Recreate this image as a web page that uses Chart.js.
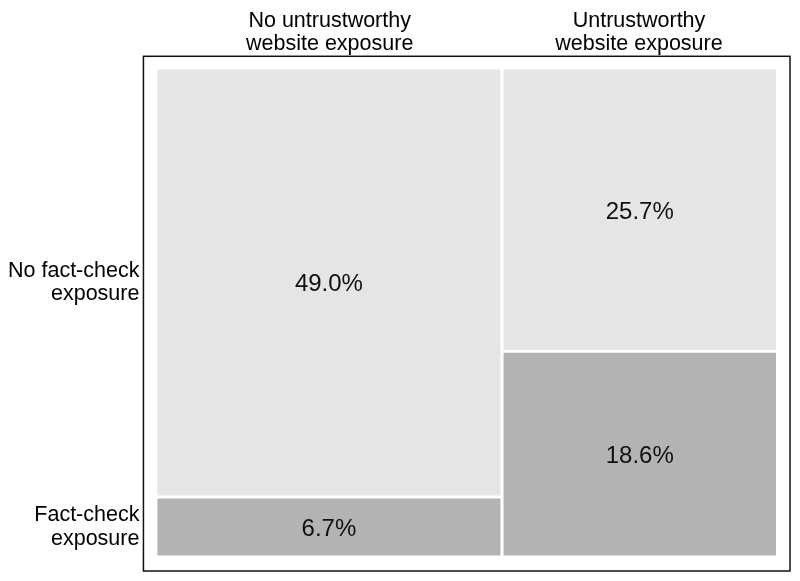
<!DOCTYPE html>
<html>
<head>
<meta charset="utf-8">
<script src="https://cdn.jsdelivr.net/npm/chart.js@4/dist/chart.umd.min.js"></script>
<style>
  body { margin: 0; background: #fff; }
  #wrap { width: 800px; height: 581px; }
</style>
</head>
<body>
<div id="wrap"><canvas id="mosaic" width="800" height="581"></canvas></div>
<script>
// column categories (top) and row categories (left)
const columnLabels = [['No untrustworthy', 'website exposure'], ['Untrustworthy', 'website exposure']];
const rowLabels = [['Fact-check', 'exposure'], ['No fact-check', 'exposure']];

// share of respondents (%) per column
const factCheck = [6.7, 18.6];
const noFactCheck = [49.0, 25.7];

const lightGrey = '#e5e5e5';
const darkGrey = '#b3b3b3';
const gapX = 0.005;   // white gap between tiles, in axis units
const gapY = 0.006;

const totals = factCheck.map((v, i) => v + noFactCheck[i]);
const grand = totals.reduce((a, b) => a + b, 0);

// build tiles from the proportions
const tiles = [];
let cum = 0;
totals.forEach((t, i) => {
  const w = t / grand;
  const x0 = cum + (i > 0 ? gapX / 2 : 0);
  const x1 = cum + w - (i < totals.length - 1 ? gapX / 2 : 0);
  const split = factCheck[i] / t;
  tiles.push({ x0, x1, y0: 0, y1: split - gapY / 2, value: factCheck[i], color: darkGrey });
  tiles.push({ x0, x1, y0: split + gapY / 2, y1: 1, value: noFactCheck[i], color: lightGrey });
  cum += w;
});

const colCenters = [];
cum = 0;
totals.forEach(t => { colCenters.push(cum + t / grand / 2); cum += t / grand; });
const rowCenters = [tiles[0], tiles[1]].map(r => (r.y0 + r.y1) / 2);

const datasets = tiles.map(r => ({
  data: [
    { x: r.x0, y: r.y0 }, { x: r.x1, y: r.y0 },
    { x: r.x1, y: r.y1 }, { x: r.x0, y: r.y1 }, { x: r.x0, y: r.y0 }
  ],
  backgroundColor: r.color,
  borderColor: 'transparent',
  borderWidth: 0,
  pointRadius: 0,
  tension: 0,
  fill: 'shape'
}));

// frame round the plot area + percentage labels in each tile
const mosaicExtras = {
  id: 'mosaicExtras',
  afterDatasetsDraw(chart) {
    const { ctx, chartArea, scales } = chart;
    ctx.save();
    ctx.fillStyle = '#111';
    ctx.font = '24px "Liberation Sans", Arial, sans-serif';
    ctx.textAlign = 'center';
    ctx.textBaseline = 'alphabetic';
    tiles.forEach(r => {
      const cx = scales.x.getPixelForValue((r.x0 + r.x1) / 2);
      const cy = scales.y.getPixelForValue((r.y0 + r.y1) / 2);
      ctx.fillText(r.value.toFixed(1) + '%', cx, cy + 9); // digits centred on cap height
    });
    ctx.strokeStyle = '#111';
    ctx.lineWidth = 1.5;
    ctx.strokeRect(chartArea.left, chartArea.top, chartArea.right - chartArea.left, chartArea.bottom - chartArea.top);
    ctx.restore();
  }
};

const tickFont = { family: '"Liberation Sans", Arial, sans-serif', size: 21.5, lineHeight: 1.1 };
const noEdgePadding = axis => { axis.paddingTop = 0; axis.paddingBottom = 0; axis.paddingLeft = 0; axis.paddingRight = 0; };

new Chart(document.getElementById('mosaic'), {
  type: 'line',
  data: { datasets },
  plugins: [mosaicExtras],
  options: {
    responsive: false,
    animation: false,
    layout: { padding: { left: 4, right: 10, bottom: 10, top: 9 } },
    plugins: { legend: { display: false }, tooltip: { enabled: false } },
    scales: {
      x: {
        type: 'linear',
        position: 'top',
        min: -0.0226,
        max: 1.0226,
        grid: { display: false, drawTicks: false },
        border: { display: false },
        afterBuildTicks: axis => { axis.ticks = colCenters.map(v => ({ value: v })); },
        afterFit: noEdgePadding,
        ticks: {
          autoSkip: false,
          maxRotation: 0,
          padding: 0,
          color: '#000',
          font: tickFont,
          callback: (v, i) => columnLabels[i]
        }
      },
      y: {
        type: 'linear',
        min: -0.032,
        max: 1.027,
        grid: { display: false, drawTicks: false },
        border: { display: false },
        afterBuildTicks: axis => { axis.ticks = rowCenters.map(v => ({ value: v })); },
        afterFit: noEdgePadding,
        ticks: {
          autoSkip: false,
          padding: 4,
          color: '#000',
          font: tickFont,
          callback: (v, i) => rowLabels[i]
        }
      }
    }
  }
});
</script>
</body>
</html>
